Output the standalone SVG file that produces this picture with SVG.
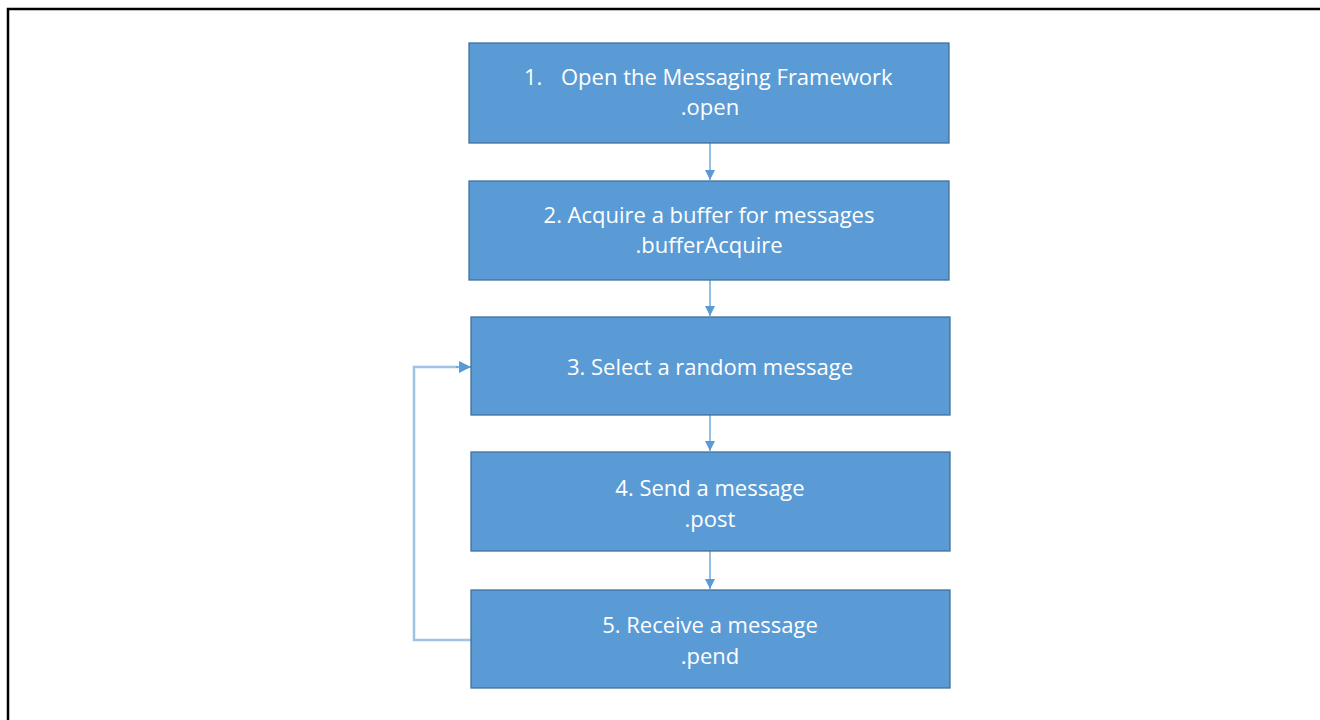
<svg xmlns="http://www.w3.org/2000/svg" width="1320" height="720" viewBox="0 0 1320 720">
<defs>
<style>
.box{fill:#5b9bd5;stroke:#41719c;stroke-width:1.3}
.t{font-family:"Open Sans","Liberation Sans",sans-serif;font-size:22px;fill:#ffffff;text-anchor:middle}
.ts{font-family:"Open Sans","Liberation Sans",sans-serif;font-size:22px;fill:#ffffff}
.c{fill:none;stroke:#5b9bd5;stroke-width:1.3}
.loop{fill:none;stroke:#9dc3e6;stroke-width:2.5}
</style>
<marker id="ah" markerWidth="10" markerHeight="10" viewBox="0 0 10 10" refX="10" refY="5" orient="auto" markerUnits="userSpaceOnUse">
<path d="M0,0 L10,5 L0,10 Z" fill="#5b9bd5"/>
</marker>
<marker id="ah2" markerWidth="12" markerHeight="12" viewBox="0 0 12 12" refX="12" refY="6" orient="auto" markerUnits="userSpaceOnUse">
<path d="M0,0 L12,6 L0,12 Z" fill="#5b9bd5"/>
</marker>
</defs>
<rect width="1320" height="720" fill="#ffffff"/>
<path d="M8,720 V9 H1320" fill="none" stroke="#000000" stroke-width="2.5"/>
<g id="connectors">
<line class="c" x1="710" y1="143" x2="710" y2="180" marker-end="url(#ah)"/>
<line class="c" x1="710" y1="280" x2="710" y2="316" marker-end="url(#ah)"/>
<line class="c" x1="710" y1="415" x2="710" y2="451" marker-end="url(#ah)"/>
<line class="c" x1="710" y1="551" x2="710" y2="589" marker-end="url(#ah)"/>
<path class="loop" d="M471,640 H414 V367 H458"/>
<line class="c" x1="456" y1="367" x2="471" y2="367" stroke-width="1.5" marker-end="url(#ah2)"/>
</g>
<g id="node1">
<rect class="box" x="469" y="43" width="480" height="100"/>
<text class="ts" x="524" y="85">1.</text>
<text class="ts" x="561" y="85">Open the Messaging Framework</text>
<text class="t" x="710" y="115">.open</text>
</g>
<g id="node2">
<rect class="box" x="469" y="181" width="480" height="99"/>
<text class="t" x="709" y="223">2. Acquire a buffer for messages</text>
<text class="t" x="709" y="253">.bufferAcquire</text>
</g>
<g id="node3">
<rect class="box" x="471" y="317" width="479" height="98"/>
<text class="t" x="710" y="375">3. Select a random message</text>
</g>
<g id="node4">
<rect class="box" x="471" y="452" width="479" height="99"/>
<text class="t" x="710" y="496">4. Send a message</text>
<text class="t" x="710" y="527">.post</text>
</g>
<g id="node5">
<rect class="box" x="471" y="590" width="479" height="98"/>
<text class="t" x="710" y="633">5. Receive a message</text>
<text class="t" x="710" y="664">.pend</text>
</g>
</svg>
